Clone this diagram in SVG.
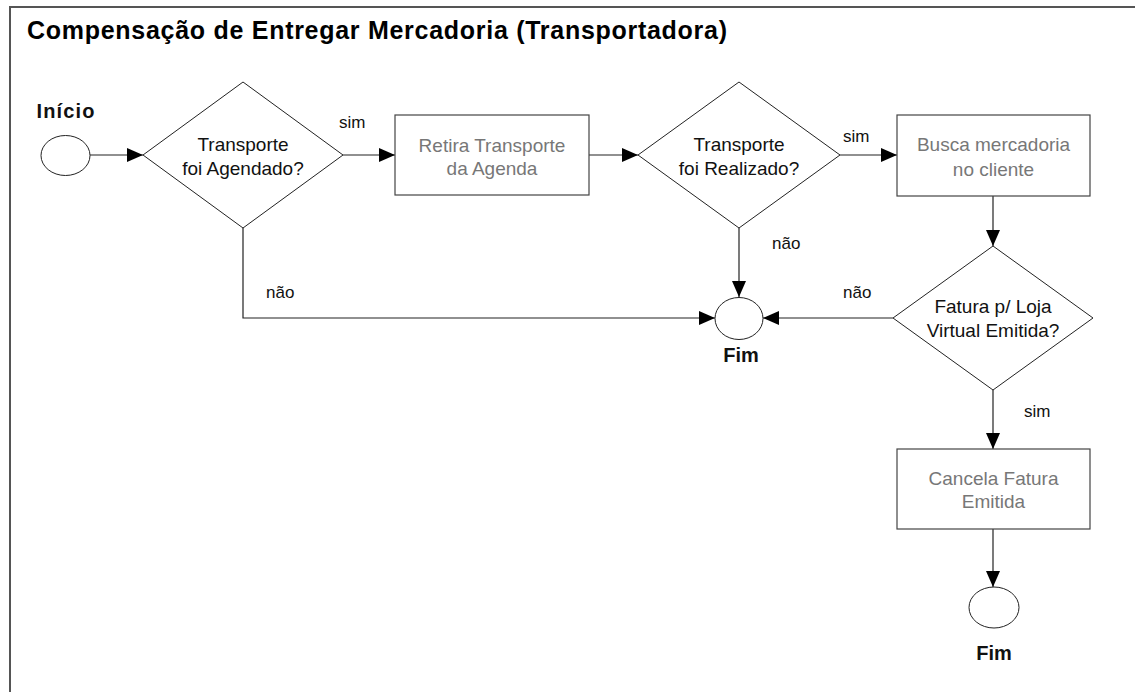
<svg xmlns="http://www.w3.org/2000/svg" width="1135" height="692" viewBox="0 0 1135 692">
  <style>
    .frame { fill: none; stroke: #555; stroke-width: 2; }
    .title { font-family: "Liberation Sans", Arial, sans-serif; font-weight: bold; font-size: 25px; fill: #000; }
    .term { fill: #fff; stroke: #222; stroke-width: 1; }
    .termlabel { font-family: "Liberation Sans", Arial, sans-serif; font-weight: bold; font-size: 20px; fill: #111; text-anchor: middle; }
    .dec { fill: #fff; stroke: #222; stroke-width: 1; }
    .dectext { font-family: "Liberation Sans", Arial, sans-serif; font-size: 19px; fill: #111; text-anchor: middle; }
    .proc { fill: #fff; stroke: #444; stroke-width: 1.2; }
    .proctext { font-family: "Liberation Sans", Arial, sans-serif; font-size: 19px; fill: #777; text-anchor: middle; }
    .edge { fill: none; stroke: #222; stroke-width: 1.2; }
    .edgelabel { font-family: "Liberation Sans", Arial, sans-serif; font-size: 17px; fill: #111; }
  </style>
  <defs>
    <marker id="arrow" viewBox="0 0 16 14" refX="16" refY="7" markerWidth="16" markerHeight="14" markerUnits="userSpaceOnUse" orient="auto">
      <path d="M0,0 L16,7 L0,14 Z" fill="#000"/>
    </marker>
  </defs>

  <rect width="1135" height="692" fill="#fff"/>
  <!-- outer frame: top and left edges only -->
  <path class="frame" d="M10,692 V7 H1135"/>
  <text class="title" x="27" y="39" textLength="700" lengthAdjust="spacing">Compensação de Entregar Mercadoria (Transportadora)</text>

  <!-- connectors -->
  <g id="connectors">
    <path class="edge" d="M90,155 H143" marker-end="url(#arrow)"/>
    <path class="edge" d="M343,155 H395" marker-end="url(#arrow)"/>
    <text class="edgelabel" x="339" y="128">sim</text>
    <path class="edge" d="M589,155 H638" marker-end="url(#arrow)"/>
    <path class="edge" d="M840,155 H897" marker-end="url(#arrow)"/>
    <text class="edgelabel" x="843" y="142">sim</text>
    <path class="edge" d="M243,228 V318 H715" marker-end="url(#arrow)"/>
    <text class="edgelabel" x="266" y="298">não</text>
    <path class="edge" d="M739,228 V297" marker-end="url(#arrow)"/>
    <text class="edgelabel" x="772" y="249">não</text>
    <path class="edge" d="M993,196 V246" marker-end="url(#arrow)"/>
    <path class="edge" d="M893,318 H763" marker-end="url(#arrow)"/>
    <text class="edgelabel" x="843" y="298">não</text>
    <path class="edge" d="M993,390 V449" marker-end="url(#arrow)"/>
    <text class="edgelabel" x="1024" y="417">sim</text>
    <path class="edge" d="M993,529 V587" marker-end="url(#arrow)"/>
  </g>

  <!-- start -->
  <g id="inicio">
    <text class="termlabel" x="65.5" y="118" font-size="21" textLength="58" lengthAdjust="spacing">Início</text>
    <ellipse class="term" cx="65.5" cy="155.5" rx="24.5" ry="20"/>
  </g>

  <g id="transporte-agendado">
    <polygon class="dec" points="243,82 343,155 243,228 143,155"/>
    <text class="dectext" x="243" y="151">Transporte</text>
    <text class="dectext" x="243" y="175">foi Agendado?</text>
  </g>

  <g id="retira-transporte">
    <rect class="proc" x="395" y="115" width="194" height="80"/>
    <text class="proctext" x="492" y="152">Retira Transporte</text>
    <text class="proctext" x="492" y="175">da Agenda</text>
  </g>

  <g id="transporte-realizado">
    <polygon class="dec" points="739,82 840,155 739,228 638,155"/>
    <text class="dectext" x="739" y="151">Transporte</text>
    <text class="dectext" x="739" y="175">foi Realizado?</text>
  </g>

  <g id="busca-mercadoria">
    <rect class="proc" x="897" y="115" width="193" height="81"/>
    <text class="proctext" x="993.5" y="151">Busca mercadoria</text>
    <text class="proctext" x="993.5" y="176">no cliente</text>
  </g>

  <g id="fim-1">
    <ellipse class="term" cx="739" cy="318.5" rx="24" ry="21"/>
    <text class="termlabel" x="741" y="362">Fim</text>
  </g>

  <g id="fatura-emitida">
    <polygon class="dec" points="993,246 1093,318 993,390 893,318"/>
    <text class="dectext" x="993" y="313">Fatura p/ Loja</text>
    <text class="dectext" x="993" y="337">Virtual Emitida?</text>
  </g>

  <g id="cancela-fatura">
    <rect class="proc" x="897" y="449" width="193" height="80"/>
    <text class="proctext" x="993.5" y="485">Cancela Fatura</text>
    <text class="proctext" x="993.5" y="508">Emitida</text>
  </g>

  <g id="fim-2">
    <ellipse class="term" cx="994" cy="607.5" rx="25" ry="20.5"/>
    <text class="termlabel" x="994" y="660">Fim</text>
  </g>
</svg>
